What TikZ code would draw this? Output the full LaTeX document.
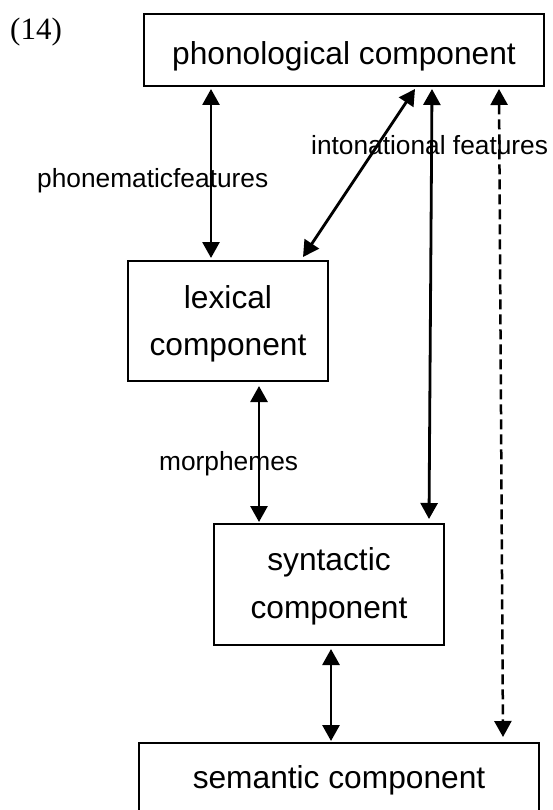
\documentclass[tikz,border=0pt]{standalone}
\usepackage{fontspec}
\setmainfont{Liberation Sans}
\newfontfamily\serifnum{Liberation Serif}
\usetikzlibrary{arrows.meta}
\tikzset{
  compbox/.style={draw, line width=2pt, inner sep=0pt, anchor=center},
  boxtext/.style={anchor=base, inner sep=0pt, font=\fontsize{31.7}{38}\selectfont},
  lbltext/.style={anchor=base west, inner sep=0pt, font=\fontsize{26.3}{32}\selectfont},
  tipshape/.tip={Triangle[width=17pt,length=16pt]},
  dbl/.style={line width=2.8pt, tipshape-tipshape},
  dbldash/.style={dbl, line width=2.5pt, dash pattern=on 10pt off 5pt}
}
\begin{document}
\begin{tikzpicture}[x=1pt,y=-1pt]
\clip (0,0) rectangle (552,810);
% boxes
\node[compbox, minimum width=400pt, minimum height=72pt] (phon) at (344,50) {};
\node[compbox, minimum width=200pt, minimum height=120pt] (lex) at (228,321) {};
\node[compbox, minimum width=230pt, minimum height=121pt] (syn) at (329,584.5) {};
\node[compbox, minimum width=400pt, minimum height=72pt] (sem) at (339,779) {};
% box texts
\node[boxtext] (phontext) at (344,65) {phonological component};
\node[boxtext] (lextext1) at (228,308) {lexical};
\node[boxtext] (lextext2) at (228,355) {component};
\node[boxtext] (syntext1) at (329,570) {syntactic};
\node[boxtext] (syntext2) at (329,618) {component};
\node[boxtext] (semtext) at (339,788) {semantic component};
% example number
\node[anchor=base west, inner sep=0pt, font=\serifnum\fontsize{31}{36}\selectfont] (num) at (10,40) {(14)};
% labels
\node[lbltext] (phonlbl) at (37,188) {phonematicfeatures};
\node[lbltext] (intlbl) at (311,155) {intonational features};
\node[lbltext] (morlbl) at (159,470) {morphemes};
% connectors
\draw[dbl] ([xshift=-133pt,yshift=-2pt]phon.south) -- ([xshift=-17pt,yshift=2pt]lex.north);
\draw[dbl] ([xshift=71pt,yshift=-2pt]phon.south) -- ([xshift=75pt,yshift=3pt]lex.north);
\draw[dbl] ([xshift=88pt,yshift=-2pt]phon.south) -- ([xshift=100pt,yshift=4pt]syn.north);
\draw[dbldash] ([xshift=155pt,yshift=-2pt]phon.south) -- ([xshift=164pt,yshift=5pt]sem.north);
\draw[dbl] ([xshift=31pt,yshift=-4pt]lex.south) -- ([xshift=-70pt,yshift=1pt]syn.north);
\draw[dbl] ([xshift=2pt,yshift=-3pt]syn.south) -- ([xshift=-8pt,yshift=1pt]sem.north);
\end{tikzpicture}
\end{document}
